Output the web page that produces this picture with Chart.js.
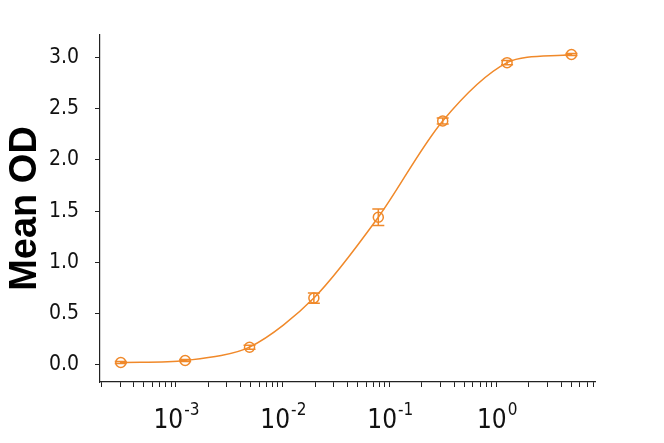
<!DOCTYPE html>
<html>
<head>
<meta charset="utf-8">
<script src="https://cdn.jsdelivr.net/npm/chart.js@4"></script>
<style>
  body { margin: 0; background: #fff; }
  #wrap { width: 664px; height: 443px; }
</style>
</head>
<body>
<div id="wrap"><canvas id="chart"></canvas></div>
<script>
const concentrations = [0.000305, 0.00122, 0.00488, 0.0195, 0.0781, 0.3125, 1.25, 5];
const meanOD = [0.02, 0.04, 0.17, 0.65, 1.44, 2.38, 2.95, 3.03];
const errorOD = [0.01, 0.01, 0.02, 0.05, 0.08, 0.03, 0.02, 0.01];

const xMajorTicks = [1e-3, 1e-2, 1e-1, 1];
const xTickExponents = ["-3", "-2", "-1", "0"];
const yTicks = [0, 0.5, 1.0, 1.5, 2.0, 2.5, 3.0];

const orange = "#F0892A";
const tickFont = "'Liberation Sans Narrow', 'DejaVu Sans Condensed', sans-serif";

const ctx = document.getElementById("chart");

// error bars drawn from the y scale
const errorBars = {
  id: "errorBars",
  afterDatasetsDraw(chart) {
    const c = chart.ctx;
    const meta = chart.getDatasetMeta(0);
    const y = chart.scales.y;
    c.save();
    c.strokeStyle = orange;
    c.lineWidth = 1.5;
    meta.data.forEach((pt, i) => {
      const top = y.getPixelForValue(meanOD[i] + errorOD[i]);
      const bot = y.getPixelForValue(meanOD[i] - errorOD[i]);
      c.beginPath();
      c.moveTo(pt.x, top);
      c.lineTo(pt.x, bot);
      c.moveTo(pt.x - 6, top);
      c.lineTo(pt.x + 6, top);
      c.moveTo(pt.x - 6, bot);
      c.lineTo(pt.x + 6, bot);
      c.stroke();
    });
    c.restore();
  },
};

// "10^n" labels under the log axis
const powerLabels = {
  id: "powerLabels",
  afterDraw(chart) {
    const c = chart.ctx;
    const x = chart.scales.x;
    c.save();
    c.fillStyle = "#111";
    c.textBaseline = "alphabetic";
    c.textAlign = "left";
    xMajorTicks.forEach((v, i) => {
      const px = x.getPixelForValue(v);
      c.font = "26px " + tickFont;
      const wBase = c.measureText("10").width;
      c.font = "17px " + tickFont;
      const wExp = c.measureText(xTickExponents[i]).width;
      const left = px - (wBase + wExp) / 2;
      c.font = "26px " + tickFont;
      c.fillText("10", left, 428);
      c.font = "17px " + tickFont;
      c.fillText(xTickExponents[i], left + wBase + 1, 415);
    });
    c.restore();
  },
};

const myChart = new Chart(ctx, {
  type: "line",
  data: {
    datasets: [
      {
        data: concentrations.map((v, i) => ({ x: v, y: meanOD[i] })),
        borderColor: orange,
        borderWidth: 1.5,
        tension: 0.3,
        pointStyle: "circle",
        pointRadius: 5,
        pointBorderWidth: 1.5,
        pointBorderColor: orange,
        pointBackgroundColor: "rgba(0,0,0,0)",
        fill: false,
      },
    ],
  },
  options: {
    responsive: true,
    maintainAspectRatio: false,
    animation: false,
    layout: { padding: { top: 35, right: 69, left: 0, bottom: 0 } },
    plugins: {
      legend: { display: false },
      tooltip: { enabled: false },
    },
    scales: {
      x: {
        type: "logarithmic",
        min: 0.000195,
        max: 8.3,
        afterBuildTicks(scale) {
          const t = [];
          for (let e = -4; e <= 0; e++) {
            for (let m = 1; m <= 9; m++) {
              const v = m * Math.pow(10, e);
              if (v >= scale.min && v <= scale.max) t.push({ value: v });
            }
          }
          scale.ticks = t;
        },
        afterFit(scale) {
          scale.height = 61;
        },
        ticks: { display: false, autoSkip: false },
        grid: {
          drawOnChartArea: false,
          drawTicks: true,
          tickLength: 5,
          tickColor: "#222",
          tickWidth: 1,
        },
        border: { color: "#222", width: 1.2 },
      },
      y: {
        min: -0.17,
        max: 3.22,
        afterBuildTicks(scale) {
          scale.ticks = yTicks.map((v) => ({ value: v }));
        },
        afterFit(scale) {
          scale.width = 100;
        },
        ticks: {
          color: "#111",
          padding: 16,
          font: { family: tickFont, size: 21 },
          callback: (v) => Number(v).toFixed(1),
        },
        grid: {
          drawOnChartArea: false,
          drawTicks: true,
          tickLength: 5,
          tickColor: "#222",
        },
        border: { color: "#222", width: 1.2 },
        title: {
          display: true,
          text: "Mean OD",
          color: "#000",
          font: { family: "'Liberation Sans', Arial, sans-serif", size: 38, weight: "bold" },
          padding: { top: 3, bottom: 0 },
        },
      },
    },
  },
  plugins: [errorBars, powerLabels],
});
</script>
</body>
</html>
